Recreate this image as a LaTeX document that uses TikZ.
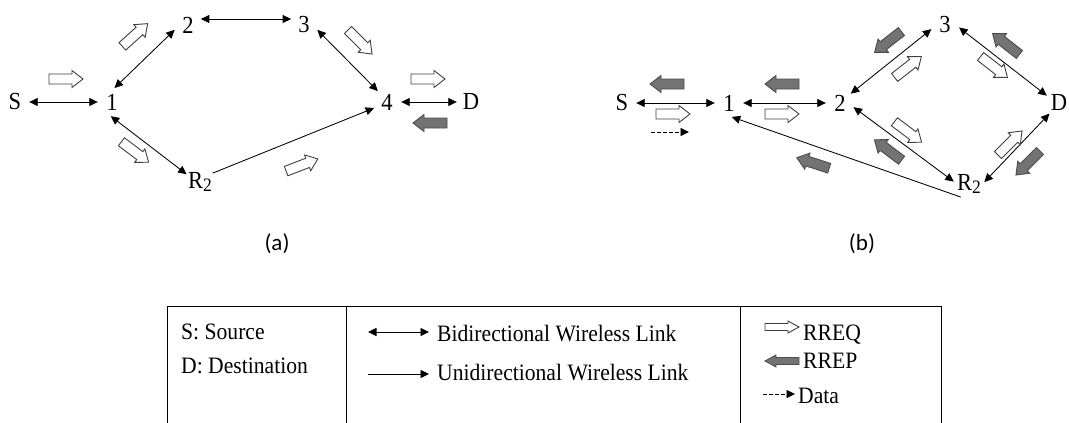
\documentclass[tikz,border=0pt]{standalone}
\usepackage{fontspec}
\setmainfont{Liberation Serif}[FakeStretch=0.92]
\newfontfamily\calib{Carlito}
\usetikzlibrary{arrows.meta}
\tikzset{
  lbl/.style={circle, inner sep=0pt, minimum size=28pt, font=\fontsize{24.5}{24.5}\selectfont},
  lgd/.style={inner sep=0pt, font=\fontsize{23.5}{23.5}\selectfont},
  captxt/.style={inner sep=0pt, font=\calib\fontsize{23}{23}\selectfont},
  bilink/.style={line width=0.85pt, {Triangle[length=8.5pt,width=8pt]}-{Triangle[length=8.5pt,width=8pt]}},
  unilink/.style={line width=0.85pt, -{Triangle[length=8.5pt,width=8pt]}},
  datalink/.style={line width=0.85pt, dash pattern=on 3.5pt off 2.5pt, -{Triangle[length=8.5pt,width=8pt]}},
  hollowblk/.style={draw=black!75, fill=white, line width=0.9pt},
  filledblk/.style={draw=black!70, fill=black!55, line width=0.9pt},
  pics/blk/.style={code={\path[#1] (-17,-5) -- (6,-5) -- (6,-8.5) -- (17,0) -- (6,8.5) -- (6,5) -- (-17,5) -- cycle;}}
}
\begin{document}
\begin{tikzpicture}[x=1pt,y=-1pt]
\useasboundingbox (0,0) rectangle (1069,423);
% ---------- (a) ----------
\node[lbl] (aS) at (15,102) {S};
\node[lbl] (a1) at (112,102) {1};
\node[lbl] (a2) at (188,25) {2};
\node[lbl] (a3) at (304,25) {3};
\node[lbl] (a4) at (387,102) {4};
\node[lbl] (aD) at (471,102) {D};
\node[lbl] (aR) at (200,182) {R\raisebox{-3pt}{\fontsize{19}{19}\selectfont 2}};
\draw[bilink] (aS.0) -- (a1.180);
\draw[bilink] (a1.80) -- (a2.200);
\draw[bilink] (a2.25) -- (a3.155);
\draw[bilink] (a3.-20) -- (a4.130);
\draw[bilink] (a4.0) -- (aD.180);
\draw[bilink] (a1.-95) -- (aR.150);
\draw[unilink] (aR.35) -- (a4.205);
\pic[rotate=0] at (66,79) {blk=hollowblk};
\pic[rotate=42] at (135,35) {blk=hollowblk};
\pic[rotate=-45] at (360,42) {blk=hollowblk};
\pic[rotate=0] at (428,79) {blk=hollowblk};
\pic[rotate=180] at (430,123) {blk=filledblk};
\pic[rotate=-37] at (135,152) {blk=hollowblk};
\pic[rotate=21] at (302,165) {blk=hollowblk};
\node[captxt] (capa) at (277,244) {(a)};
% ---------- (b) ----------
\node[lbl] (bS) at (622,103) {S};
\node[lbl] (b1) at (729,103) {1};
\node[lbl] (b2) at (840,103) {2};
\node[lbl] (b3) at (945,25) {3};
\node[lbl] (bD) at (1059,103) {D};
\node[lbl] (bR) at (969,184) {R\raisebox{-3pt}{\fontsize{19}{19}\selectfont 2}};
\draw[bilink] (bS.0) -- (b1.180);
\draw[bilink] (b1.0) -- (b2.180);
\draw[bilink] (b2.41) -- (b3.197);
\draw[bilink] (b3.-10) -- (bD.149);
\draw[bilink] (b2.-17) -- (bR.171);
\draw[bilink] (bR.7) -- (bD.228);
\draw[unilink] (bR.238) -- (b1.-79);
\pic[rotate=180] at (667,84) {blk=filledblk};
\pic[rotate=0] at (673,114) {blk=hollowblk};
\coordinate (d1) at (651,132);
\coordinate (d2) at (689,132);
\draw[datalink] (d1) -- (d2);
\pic[rotate=180] at (782,84) {blk=filledblk};
\pic[rotate=0] at (782,114) {blk=hollowblk};
\pic[rotate=218] at (888,42) {blk=filledblk};
\pic[rotate=38] at (908,67) {blk=hollowblk};
\pic[rotate=142] at (1006,44) {blk=filledblk};
\pic[rotate=-38] at (994,67) {blk=hollowblk};
\pic[rotate=-37] at (908,132) {blk=hollowblk};
\pic[rotate=143] at (888,150) {blk=filledblk};
\pic[rotate=45] at (1010,143) {blk=hollowblk};
\pic[rotate=225] at (1028,163) {blk=filledblk};
\pic[rotate=162] at (813,163) {blk=filledblk};
\node[captxt] (capb) at (862,244) {(b)};
% ---------- legend ----------
\draw[line width=0.9pt] (167,440) -- (167,306) -- (941,306) -- (941,440);
\draw[line width=0.9pt] (346,306) -- (346,440);
\draw[line width=0.9pt] (740,306) -- (740,440);
\node[lgd, anchor=base west] (ls) at (181,339) {S: Source};
\node[lgd, anchor=base west] (ld) at (181,373) {D: Destination};
\coordinate (lb1) at (368,332);
\coordinate (lb2) at (429,332);
\draw[bilink] (lb1) -- (lb2);
\node[lgd, anchor=base west] (lbt) at (437,341) {Bidirectional Wireless Link};
\coordinate (lu1) at (368,374);
\coordinate (lu2) at (429,374);
\draw[unilink] (lu1) -- (lu2);
\node[lgd, anchor=base west] (lut) at (437,380) {Unidirectional Wireless Link};
\pic[yscale=0.7] at (782,327) {blk=hollowblk};
\node[lgd, anchor=base west] (lq) at (803,340) {RREQ};
\pic[rotate=180, yscale=0.7] at (782,361) {blk=filledblk};
\node[lgd, anchor=base west] (lp) at (803,368) {RREP};
\coordinate (ld1) at (763,394);
\coordinate (ld2) at (795,394);
\draw[datalink] (ld1) -- (ld2);
\node[lgd, anchor=base west] (ldt) at (798,403) {Data};
\end{tikzpicture}
\end{document}
